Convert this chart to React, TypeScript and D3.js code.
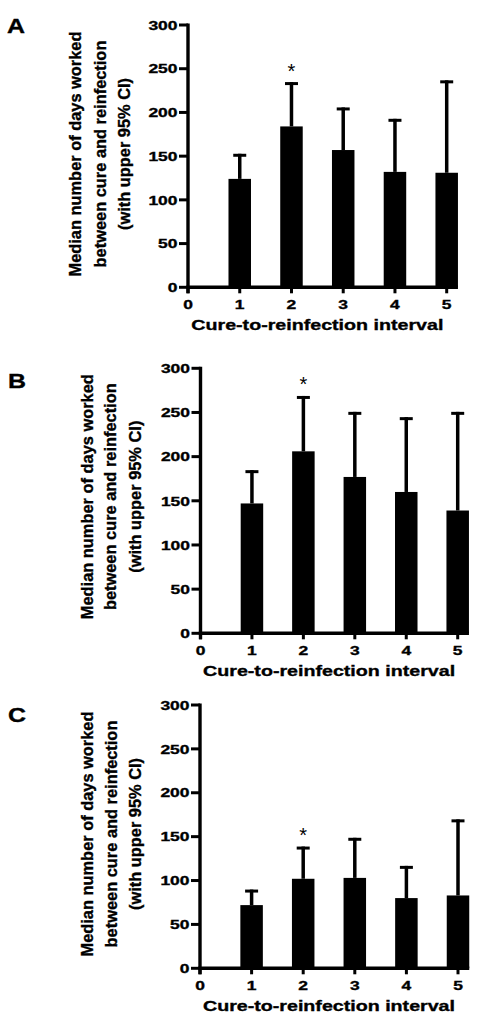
import React from "react";
import * as d3 from "d3";

const categories = [1, 2, 3, 4, 5];
const xTickValues = [0, 1, 2, 3, 4, 5];
const yTickValues = [0, 50, 100, 150, 200, 250, 300];

const medianA = [124, 184, 157, 132, 131];
const upperA = [151, 233, 204, 191, 235];
const medianB = [147, 206, 177, 160, 139];
const upperB = [183, 267, 249, 243, 249];
const medianC = [72, 102, 103, 80, 83];
const upperC = [88, 137, 147, 115, 168];
const starCategory = [2, 2, 2];

const panelLetters = ["A", "B", "C"];
const yTitleLines = [
  "Median number of days worked",
  "between cure and reinfection",
  "(with upper 95% CI)",
];
const xTitle = "Cure-to-reinfection interval";

const FONT = "'Liberation Sans', Arial, Helvetica, sans-serif";

type Layout = {
  x0: number;
  x5: number;
  yTop: number;
  yBottom: number;
  titleX: number[];
  titleY: number;
  letterX: number;
  letterY: number;
};

const layouts: Layout[] = [
  { x0: 188, x5: 446.7, yTop: 25, yBottom: 287.3, titleX: [75, 100, 124], titleY: 154, letterX: 7, letterY: 33.3 },
  { x0: 200.5, x5: 457.7, yTop: 368.3, yBottom: 633.3, titleX: [86.7, 110, 135], titleY: 496.7, letterX: 8, letterY: 388.3 },
  { x0: 200, x5: 458, yTop: 705, yBottom: 968.3, titleX: [86.7, 111, 135], titleY: 834, letterX: 8, letterY: 721.7 },
];

const boldText = { fontFamily: FONT, fontWeight: "bold" as const, stroke: "#000", strokeWidth: 0.35 };

function Panel({ idx, medians, uppers }: { idx: number; medians: number[]; uppers: number[] }) {
  const L = layouts[idx];
  const x = d3.scaleLinear().domain([0, 5]).range([L.x0, L.x5]);
  const y = d3.scaleLinear().domain([0, 300]).range([L.yBottom, L.yTop]);
  const barW = 22.5;
  const capW = 13;
  const star = starCategory[idx];
  const starI = categories.indexOf(star);
  const xEnd = x(5) + barW / 2;
  return (
    <g>
      <text x={L.letterX} y={L.letterY} {...boldText} fontSize={21} textLength={18} lengthAdjust="spacingAndGlyphs">
        {panelLetters[idx]}
      </text>
      {yTitleLines.map((line, i) => (
        <text
          key={i}
          transform={`translate(${L.titleX[i]},${L.titleY}) rotate(-90)`}
          textAnchor="middle"
          dominantBaseline="central"
          {...boldText}
          fontSize={16.4}
        >
          {line}
        </text>
      ))}
      {categories.map((c, i) => (
        <rect key={c} x={x(c) - barW / 2} y={y(medians[i])} width={barW} height={y(0) - y(medians[i])} fill="#000" />
      ))}
      {categories.map((c, i) => (
        <g key={"e" + c} stroke="#000" strokeWidth={3.5}>
          <line x1={x(c)} x2={x(c)} y1={y(medians[i])} y2={y(uppers[i]) - 1.5} />
          <line x1={x(c) - capW / 2} x2={x(c) + capW / 2} y1={y(uppers[i])} y2={y(uppers[i])} strokeWidth={3} />
        </g>
      ))}
      <text x={x(star)} y={y(uppers[starI]) - 6} textAnchor="middle" fontFamily={FONT} fontSize={20}>
        *
      </text>
      <line x1={L.x0} x2={L.x0} y1={y(300) - 1.5} y2={y(0) + 6} stroke="#000" strokeWidth={3.4} />
      {yTickValues.map((t) => (
        <g key={"yt" + t}>
          <line x1={L.x0 - 9} x2={L.x0} y1={y(t)} y2={y(t)} stroke="#000" strokeWidth={3} />
          <text
            x={L.x0 - 10.5}
            y={y(t) + 4.7}
            textAnchor="end"
            {...boldText}
            fontSize={13.2}
            textLength={String(t).length * 9.7}
            lengthAdjust="spacingAndGlyphs"
          >
            {t}
          </text>
        </g>
      ))}
      <line x1={L.x0 - 1.7} x2={xEnd} y1={y(0)} y2={y(0)} stroke="#000" strokeWidth={3.4} />
      {xTickValues.map((t) => (
        <g key={"xt" + t}>
          <line x1={x(t)} x2={x(t)} y1={y(0)} y2={y(0) + 6} stroke="#000" strokeWidth={3} />
          <text
            x={x(t)}
            y={y(0) + 21.7}
            textAnchor="middle"
            {...boldText}
            fontSize={13.2}
            textLength={String(t).length * 9.7}
            lengthAdjust="spacingAndGlyphs"
          >
            {t}
          </text>
        </g>
      ))}
      <text
        x={x(2.5)}
        y={y(0) + 43}
        textAnchor="middle"
        {...boldText}
        fontSize={15}
        textLength={252}
        lengthAdjust="spacingAndGlyphs"
      >
        {xTitle}
      </text>
    </g>
  );
}

export default function App() {
  return (
    <svg
      width={496}
      height={1033}
      viewBox="0 0 496 1033"
      style={{ position: "absolute", left: 0, top: 0, background: "#fff" }}
    >
      <rect x={0} y={0} width={496} height={1033} fill="#fff" />
      <Panel idx={0} medians={medianA} uppers={upperA} />
      <Panel idx={1} medians={medianB} uppers={upperB} />
      <Panel idx={2} medians={medianC} uppers={upperC} />
    </svg>
  );
}
